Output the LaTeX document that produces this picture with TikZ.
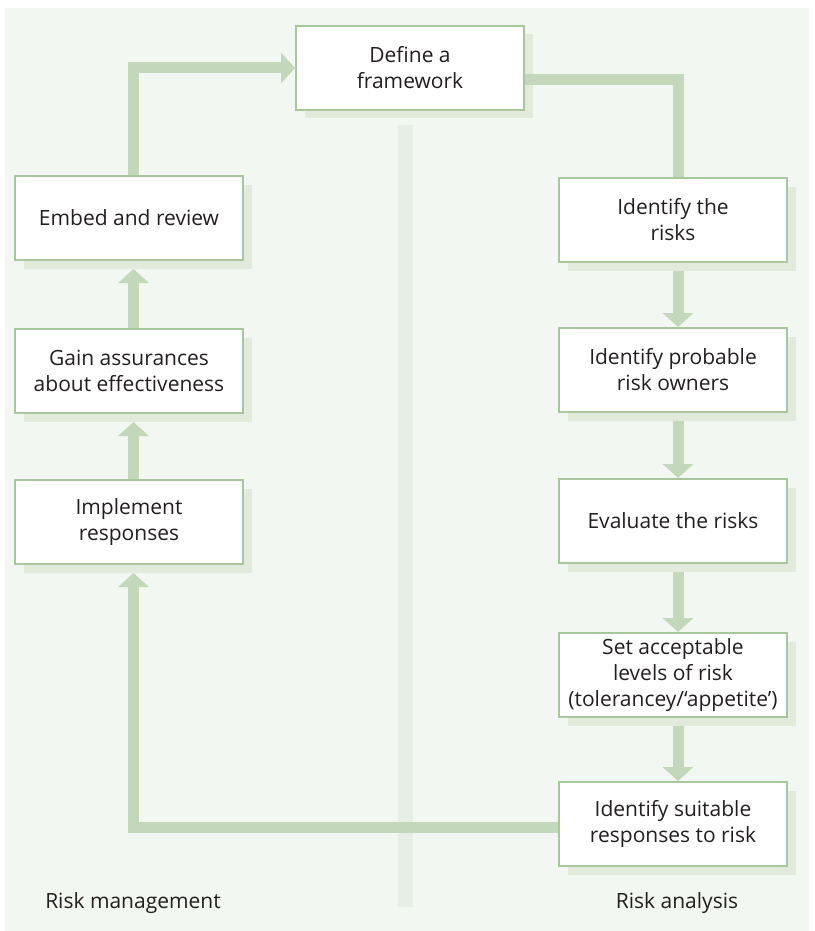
\documentclass[tikz,border=0pt]{standalone}
\usepackage{fontspec}
\setmainfont{Open Sans}
\usepackage{tikz}
\usetikzlibrary{arrows.meta,positioning,shadows}
\definecolor{PanelGreen}{HTML}{F2F7F1}
\definecolor{BorderGreen}{HTML}{A9C79C}
\definecolor{FlowGreen}{HTML}{C3D7BA}
\definecolor{ShadeGreen}{HTML}{E1EADB}
\definecolor{DividerGray}{HTML}{E7EEE6}
\definecolor{TextGray}{HTML}{231F20}

\begin{document}
\begin{tikzpicture}[
x=1pt,y=-1pt,
node distance=65pt and 10pt,
box/.style={draw=BorderGreen,fill=white,line width=2pt,align=center,
  minimum width=228pt,minimum height=84pt,inner sep=2pt,text=TextGray,
  font=\fontsize{21}{26}\selectfont,
  general shadow={fill=ShadeGreen,shadow xshift=8.5pt,shadow yshift=-8.5pt}},
flow/.style={FlowGreen,line width=11pt,line cap=butt},
arr/.style={flow,-{Triangle[width=30pt,length=14pt]}},
side/.style={text=TextGray,font=\fontsize{21}{26}\selectfont}
]
\useasboundingbox (0,0) rectangle (814,931);
\fill[PanelGreen] (5,8) rectangle (809,931);
\fill[DividerGray] (398,125) rectangle (413,907);

\node[box] (define) at (410,68) {Define a\\framework};
\node[box] (risks) at (673,220) {Identify the\\risks};
\node[box,below=64pt of risks] (owners) {Identify probable\\risk owners};
\node[box,below=65pt of owners] (evaluate) {Evaluate the risks};
\node[box,below=68pt of evaluate] (levels) {Set acceptable\\levels of risk\\(tolerancey/‘appetite’)};
\node[box,below=63pt of levels] (responses) {Identify suitable\\responses to risk};
\node[box] (implement) at (129,522) {Implement\\responses};
\node[box,above=65pt of implement] (assure) {Gain assurances\\about effectiveness};
\node[box,above=67pt of assure] (embed) {Embed and review};

\node[side] (mgmt) at (133,903) {Risk management};
\node[side] (analysis) at (677,903) {Risk analysis};

\draw[arr] ([xshift=4.5pt]embed.north) |- (define.west);
\draw[flow] ([yshift=-12pt]define.east) -| ([xshift=5pt]risks.north);
\draw[arr] ([xshift=5pt,yshift=-8pt]risks.south) -- ([xshift=5pt]owners.north);
\draw[arr] ([xshift=5pt,yshift=-8pt]owners.south) -- ([xshift=5pt]evaluate.north);
\draw[arr] ([xshift=5pt,yshift=-8pt]evaluate.south) -- ([xshift=5pt]levels.north);
\draw[arr] ([xshift=5pt,yshift=-8pt]levels.south) -- ([xshift=5pt]responses.north);
\draw[arr] ([yshift=-3pt]responses.west) -| ([xshift=4.5pt,yshift=-8pt]implement.south);
\draw[arr] ([xshift=4.5pt]implement.north) -- ([xshift=4.5pt,yshift=-8pt]assure.south);
\draw[arr] ([xshift=4.5pt]assure.north) -- ([xshift=4.5pt,yshift=-8pt]embed.south);
\end{tikzpicture}
\end{document}
